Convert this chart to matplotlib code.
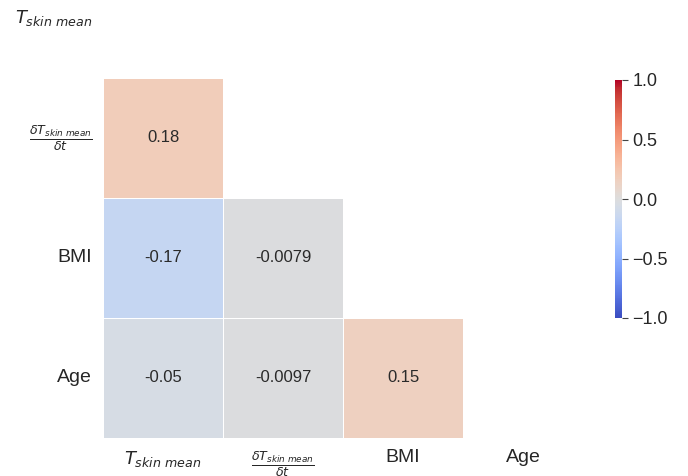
import numpy as np
import matplotlib
matplotlib.use("Agg")
import matplotlib.pyplot as plt
import seaborn as sns

# correlation values (lower triangle)
labels = [r'$T_{skin\ mean}$', r'$\frac{\delta T_{skin\ mean}}{\delta t}$', 'BMI', 'Age']
r_dt_t = 0.18
r_bmi_t = -0.17
r_bmi_dt = -0.0079
r_age_t = -0.05
r_age_dt = -0.0097
r_age_bmi = 0.15

corr = np.array([
    [1.0, r_dt_t, r_bmi_t, r_age_t],
    [r_dt_t, 1.0, r_bmi_dt, r_age_dt],
    [r_bmi_t, r_bmi_dt, 1.0, r_age_bmi],
    [r_age_t, r_age_dt, r_age_bmi, 1.0],
])
mask = np.triu(np.ones_like(corr, dtype=bool))

sns.set_style('white')
plt.rcParams['font.family'] = ['Liberation Sans', 'DejaVu Sans']
plt.rcParams['mathtext.fontset'] = 'dejavusans'

fig = plt.figure(figsize=(6.88, 4.76), dpi=100)
ax = fig.add_axes([103 / 688, 38 / 476, 480 / 688, 480 / 476])
cax = fig.add_axes([615 / 688, 158 / 476, 7 / 688, 238 / 476])

sns.heatmap(corr, mask=mask, cmap='coolwarm', vmin=-1, vmax=1, annot=True,
            annot_kws={'size': 12, 'color': '#2a2a2a'}, linewidths=0.5,
            linecolor='white', square=False, ax=ax, cbar_ax=cax,
            xticklabels=labels, yticklabels=labels)

ax.tick_params(axis='both', length=0, labelsize=14)
ax.tick_params(axis='x', pad=8)
ax.tick_params(axis='y', pad=8)
plt.setp(ax.get_yticklabels(), rotation=0)
plt.setp(ax.get_xticklabels(), rotation=0)
# math labels a touch smaller than plain text
for t in ax.get_xticklabels()[:2] + ax.get_yticklabels()[:2]:
    t.set_fontsize(13)

cax.tick_params(labelsize=13, length=4, width=0.8, color='#444444')
cax.set_yticks([-1, -0.5, 0, 0.5, 1])
for s in cax.spines.values():
    s.set_visible(False)

fig.savefig('out.png', dpi=100)
